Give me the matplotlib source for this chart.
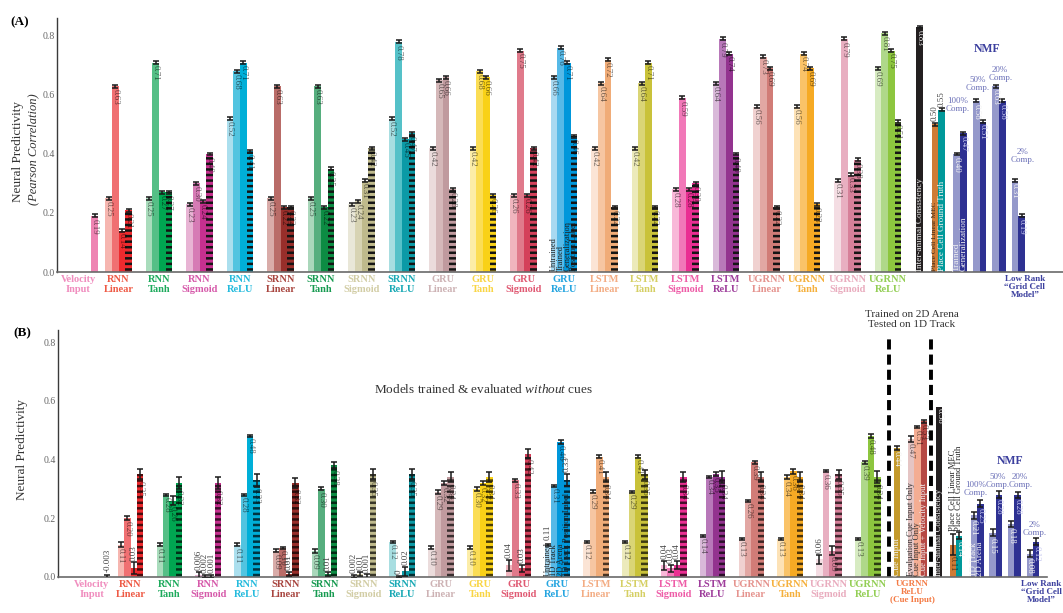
import numpy as np
import matplotlib.pyplot as plt

plt.rcParams['font.family'] = ['Liberation Serif', 'DejaVu Serif']
plt.rcParams['mathtext.fontset'] = 'custom'
plt.rcParams['mathtext.rm'] = 'Liberation Serif'
plt.rcParams['mathtext.it'] = 'Liberation Serif:italic'

# model families, four bars each
models = ['RNN\nLinear', 'RNN\nTanh', 'RNN\nSigmoid', 'RNN\nReLU',
          'SRNN\nLinear', 'SRNN\nTanh', 'SRNN\nSigmoid', 'SRNN\nReLU',
          'GRU\nLinear', 'GRU\nTanh', 'GRU\nSigmoid', 'GRU\nReLU',
          'LSTM\nLinear', 'LSTM\nTanh', 'LSTM\nSigmoid', 'LSTM\nReLU',
          'UGRNN\nLinear', 'UGRNN\nTanh', 'UGRNN\nSigmoid', 'UGRNN\nReLU']

# (A) untrained / trained / generalization / position label
a_velocity = 0.19
a_untrained = [0.25, 0.25, 0.23, 0.52, 0.25, 0.25, 0.23, 0.52, 0.42, 0.42,
               0.26, 0.66, 0.42, 0.42, 0.28, 0.64, 0.56, 0.56, 0.31, 0.69]
a_trained = [0.63, 0.71, 0.30, 0.68, 0.63, 0.63, 0.24, 0.78, 0.65, 0.68,
             0.75, 0.76, 0.64, 0.64, 0.59, 0.79, 0.73, 0.74, 0.79, 0.81]
a_general = [0.14, 0.27, 0.24, 0.71, 0.22, 0.22, 0.31, 0.45, 0.66, 0.66,
             0.26, 0.71, 0.72, 0.71, 0.28, 0.74, 0.69, 0.69, 0.33, 0.75]
a_position = [0.21, 0.27, 0.40, 0.41, 0.22, 0.35, 0.42, 0.47, 0.28, 0.26,
              0.42, 0.46, 0.22, 0.22, 0.30, 0.40, 0.22, 0.23, 0.38, 0.51]
a_err = 0.005
a_interanimal = 0.83
a_place = [0.50, 0.55]          # linear MEC, ground truth
nmf_comp = ['100%', '50%', '20%', '2%']
a_nmf_trained = [0.40, 0.58, 0.63, 0.31]
a_nmf_general = [0.47, 0.51, 0.58, 0.19]

# (B) untrained / 1D track / 2D arena / position label, no cues
b_velocity = -0.003
b_untrained = [0.11, 0.11, 0.006, 0.11, 0.09, 0.09, 0.002, 0.12, 0.10, 0.10,
               0.04, 0.11, 0.12, 0.12, 0.04, 0.14, 0.13, 0.13, 0.06, 0.13]
b_track = [0.20, 0.28, 0.002, 0.28, 0.10, 0.30, 0.01, 0.0, 0.29, 0.30,
           0.33, 0.31, 0.29, 0.29, 0.03, 0.34, 0.26, 0.34, 0.36, 0.39]
b_arena = [0.03, 0.26, 0.001, 0.48, 0.01, 0.01, 0.001, 0.02, 0.32, 0.32,
           0.03, 0.46, 0.41, 0.41, 0.04, 0.35, 0.39, 0.36, 0.09, 0.48]
b_position = [0.35, 0.32, 0.32, 0.33, 0.32, 0.38, 0.35, 0.35, 0.34, 0.34,
              0.42, 0.33, 0.34, 0.35, 0.34, 0.34, 0.34, 0.34, 0.35, 0.34]
b_err = [[0.008, 0.006, 0.020, 0.018], [0.006, 0.004, 0.015, 0.020],
         [0.012, 0.006, 0.006, 0.020], [0.006, 0.004, 0.004, 0.022],
         [0.006, 0.003, 0.008, 0.016], [0.007, 0.005, 0.006, 0.010],
         [0.006, 0.008, 0.008, 0.018], [0.004, 0.003, 0.015, 0.018],
         [0.004, 0.006, 0.008, 0.018], [0.004, 0.006, 0.008, 0.018],
         [0.018, 0.005, 0.012, 0.015], [0.004, 0.004, 0.006, 0.020],
         [0.004, 0.005, 0.005, 0.018], [0.004, 0.004, 0.005, 0.016],
         [0.016, 0.012, 0.014, 0.018], [0.004, 0.004, 0.006, 0.020],
         [0.004, 0.003, 0.006, 0.018], [0.004, 0.008, 0.008, 0.018],
         [0.016, 0.004, 0.016, 0.016], [0.004, 0.004, 0.006, 0.020]]
b_velocity_err = 0.01
b_cue = 0.44
b_cue_variants = [0.47, 0.51, 0.53]
b_cue_err = [0.006, 0.01, 0.004, 0.004]
b_interanimal = 0.58
b_place = [0.11, 0.14]
b_place_err = [0.035, 0.012]
b_nmf_track = [0.21, 0.15, 0.18, 0.08]
b_nmf_arena = [0.25, 0.28, 0.28, 0.12]
b_nmf_err = [0.012, 0.012, 0.010, 0.012]

light = ['#F6B6B0', '#A9DCBC', '#E8B4D4', '#ABDFEE', '#D9ACA9', '#AAD7BB', '#E9E7D8',
         '#A8DEE1', '#EBDCDC', '#FCEDA8', '#F0B5BE', '#A8D9F1', '#FBE4D5', '#ECEABB',
         '#F8B8D8', '#D9B9D9', '#F0D1D0', '#FDE2B6', '#F4DDE3', '#D7EBC2']
mid = ['#F07072', '#55BF86', '#D67BB5', '#52C4E0', '#B96C68', '#56AE7E', '#D7D3B3',
       '#55C1C8', '#D5B8B9', '#FBDD55', '#E07A8B', '#56B9E7', '#F6C6A2', '#DAD576',
       '#F178B8', '#B878B9', '#E2A7A3', '#FAC368', '#E8AFC1', '#AFD88A']
dark = ['#EE2A2E', '#00A651', '#C6308F', '#00AFD8', '#982E2A', '#0C8C43', '#BFBA8C',
        '#0B9AA6', '#C09A9E', '#F9D117', '#D4405A', '#0097DB', '#F0AC78', '#C9C23A',
        '#EA2E92', '#93338F', '#D17C77', '#F6AA24', '#D68099', '#8DC63F']
name_colors = ['#EE5A45', '#1DAA5C', '#D65AAA', '#25BBDD', '#A8453F', '#169A50',
               '#D2CDA5', '#19A9B5', '#CDB2B4', '#F9D544', '#E05A73', '#25A5E0',
               '#F3AC83', '#D5CF63', '#EE5CA7', '#9E3D9B', '#E5938E', '#F5B03C',
               '#E9ACBE', '#93CE55']
vel_color = '#EE84B2'
nmf_light, nmf_dark = '#9599CB', '#2E3192'
nmf_text, nmf_name = '#6B70B8', '#3B3F9E'

W = 0.165
offs = (np.arange(4) - 1.5) * W
gx = np.arange(1, len(models) + 1)
gru_relu = models.index('GRU\nReLU')
dim = (0, 0, 0, 0.55)
white = '#F2F2F2'


def fmt(v):
    if v == 0:
        return '0'
    if abs(v) < 0.01:
        return f'{v:.3f}'
    return f'{v:.2f}'


def bar(ax, x, v, color, err, lab_col=dim, above=False, hatch=None, hcol='k',
        lab_floor=0.0):
    kw = dict(width=W, color=color, linewidth=0, zorder=2)
    if hatch:
        kw.update(hatch=hatch, edgecolor=hcol)
    ax.bar(x, v, **kw)
    if err:
        ax.errorbar(x, v, yerr=err, fmt='none', ecolor='#1a1a1a', elinewidth=1.1,
                    capsize=2.2, capthick=1.1, zorder=3)
    if above:
        ax.text(x, max(max(v, 0) + err + 0.006, lab_floor), fmt(v), rotation=90,
                ha='center', va='bottom', fontsize=6.5, color='#444', zorder=4)
    else:
        ax.text(x, v - err - 0.004, fmt(v), rotation=270, ha='center', va='top',
                fontsize=6.5, color=lab_col, zorder=4)


def bar_name(ax, x, text, color, y0=0.004, size=6.3):
    ax.text(x, y0, text, rotation=90, ha='center', va='bottom', fontsize=size,
            color=color, zorder=4)


def style_axis(ax, xlim, top):
    ax.set_xlim(*xlim)
    ax.set_ylim(0, top)
    ax.spines['top'].set_visible(False)
    ax.spines['right'].set_visible(False)
    ax.spines['left'].set_color('#3a3a3a')
    ax.spines['bottom'].set_color('#6a6a6a')
    ax.spines['left'].set_linewidth(1.0)
    ax.spines['bottom'].set_linewidth(1.2)
    ticks = [0, 0.2, 0.4, 0.6, 0.8]
    ax.set_yticks(ticks)
    ax.set_yticklabels([f'{t:.1f}' for t in ticks])
    ax.set_xticks([])
    ax.tick_params(axis='y', length=0, pad=1.5, labelsize=7, labelcolor='#666')


def group_labels(ax, dy):
    tr = ax.get_xaxis_transform()
    ax.text(0, -dy, 'Velocity\nInput', transform=tr, ha='center', va='top',
            fontsize=7.5, fontweight='bold', color='#F08DBE', linespacing=1.1)
    for k, name, c in zip(gx, models, name_colors):
        ax.text(k, -dy, name, transform=tr, ha='center', va='top', fontsize=7.5,
                fontweight='bold', color=c, linespacing=1.1)


def nmf_labels(ax, spots, nmf_xy, lowrank_x, dy):
    for (x, y), c in zip(spots, nmf_comp):
        ax.text(x, y, c + '\nComp.', ha='center', va='center', fontsize=6.5,
                color=nmf_text, linespacing=1.0)
    ax.text(nmf_xy[0], nmf_xy[1], 'NMF', ha='center', va='center', fontsize=8.5,
            fontweight='bold', color=nmf_name)
    ax.text(lowrank_x, -dy, 'Low Rank\n\u201cGrid Cell\nModel\u201d',
            transform=ax.get_xaxis_transform(), ha='center', va='top',
            fontsize=6.5, fontweight='bold', color=nmf_name, linespacing=1.0)


fig = plt.figure(figsize=(10.63, 6.13), dpi=100)

# ---------------- panel A ----------------
plt.rcParams['hatch.linewidth'] = 1.8
axA = fig.add_axes([57 / 1063, 1 - 272 / 613, 1006 / 1063, 254 / 613])
style_axis(axA, (-0.52, 24.32), 0.861)

bar(axA, 0.41, a_velocity, vel_color, a_err)
for g in range(len(models)):
    vals = [a_untrained[g], a_trained[g], a_general[g], a_position[g]]
    shades = [light[g], mid[g], dark[g], dark[g]]
    for j in range(4):
        bar(axA, gx[g] + offs[j], vals[j], shades[j], a_err,
            hatch='---' if j == 3 else None, hcol='#141414')
for j, nm in enumerate(['Untrained', 'Trained', 'Generalization', 'Position Label']):
    bar_name(axA, gx[gru_relu] + offs[j], nm, '#222', size=6)

x_inter = 20.78
bar(axA, x_inter, a_interanimal, '#231F20', 0.004, lab_col=white)
bar_name(axA, x_inter, 'Inter-animal Consistency', white, size=6.6)

x_place = 21.24 + np.array([-0.5, 0.5]) * W
bar(axA, x_place[0], a_place[0], '#CF7B36', a_err, above=True)
bar(axA, x_place[1], a_place[1], '#00999A', a_err, above=True)
bar_name(axA, x_place[0], 'Place Cell Linear MEC', '#3a2a1a', size=5.3)
bar_name(axA, x_place[1], 'Place Cell Ground Truth', white, size=6.6)

x_nmf = 21.78 + 0.48 * np.arange(4)
for i in range(4):
    bar(axA, x_nmf[i] - W / 2, a_nmf_trained[i], nmf_light, a_err, lab_col=white)
    bar(axA, x_nmf[i] + W / 2, a_nmf_general[i], nmf_dark, a_err, lab_col='#C8CAF0')
bar_name(axA, x_nmf[0] - W / 2, 'Trained', white, size=6.6)
bar_name(axA, x_nmf[0] + W / 2, 'Generalization', white, size=6.6)

group_labels(axA, 0.012)
nmf_labels(axA, [(21.73, 0.567), (22.22, 0.637), (22.77, 0.67), (23.33, 0.392)],
           (22.44, 0.756), 23.38, 0.012)

# ---------------- panel B ----------------
axB = fig.add_axes([58 / 1063, 1 - 577 / 613, 989 / 1063, 247 / 613])
style_axis(axB, (-0.87, 24.62), 0.841)

bar(axB, 0.40, b_velocity, vel_color, b_velocity_err, above=True)
for g in range(len(models)):
    vals = [b_untrained[g], b_track[g], b_arena[g], b_position[g]]
    shades = [light[g], mid[g], dark[g], dark[g]]
    for j in range(4):
        # bars carrying a name at their foot get the value written above
        named = g == gru_relu and j in (0, 3)
        up = vals[j] < 0.085 or named
        bar(axB, gx[g] + offs[j], vals[j], shades[j], b_err[g][j], above=up,
            hatch='---' if j == 3 else None, hcol=(0, 0, 0, 0.7),
            lab_floor=0.125 if named and j == 0 else 0.0)
for j, nm in enumerate(['Untrained', '1D Track', '2D Arena', '1D Track Position Label']):
    bar_name(axB, gx[gru_relu] + offs[j], nm, '#222', size=6)

for xd in [20.55, 21.63]:
    axB.plot([xd, xd], [0, 0.824], color='k', lw=2.8, ls=(0, (2.6, 1.3)),
             solid_capstyle='butt', zorder=1, clip_on=False)
axB.text(21.14, 0.877, 'Trained on 2D Arena\nTested on 1D Track', ha='center',
         va='center', fontsize=8, color='#333', linespacing=1.15)
axB.text(10.09, 0.637, r'Models trained & evaluated $\mathit{without}$ cues',
         ha='center', va='center', fontsize=9.5, color='#333')

bar(axB, 20.75, b_cue, '#C49A2C', b_cue_err[0], lab_col=white)
bar_name(axB, 20.75, 'Cue Input', white, size=6.8)
x_var = 21.28 + np.array([-1, 0, 1]) * W
var_cols = ['#E5C5C4', '#F4AD93', '#B64944']
var_names = ['Evaluation Cue Input Only', 'Cue Input Only', 'Cue Input + Velocity Input']
var_txt = ['#333', '#333', white]
for i in range(3):
    bar(axB, x_var[i], b_cue_variants[i], var_cols[i], b_cue_err[i + 1])
    bar_name(axB, x_var[i], var_names[i], var_txt[i], size=6.2)
axB.text(21.15, -0.012, 'UGRNN\nReLU\n(Cue Input)', transform=axB.get_xaxis_transform(),
         ha='center', va='top', fontsize=6.5, fontweight='bold', color='#F47B45',
         linespacing=1.0)

bar(axB, 21.84, b_interanimal, '#231F20', 0, lab_col=white)
bar_name(axB, 21.84, 'Inter-animal Consistency', white, size=6.2)

x_place_b = 22.275 + np.array([-0.5, 0.5]) * W
bar(axB, x_place_b[0], b_place[0], '#CF7B36', b_place_err[0])
bar(axB, x_place_b[1], b_place[1], '#00999A', b_place_err[1], lab_col=white)
bar_name(axB, x_place_b[0], 'Place Cell Linear MEC', '#222', y0=0.155, size=6.2)
bar_name(axB, x_place_b[1], 'Place Cell Ground Truth', '#222', y0=0.155, size=6.2)

x_nmf_b = 22.82 + 0.48 * np.arange(4)
for i in range(4):
    bar(axB, x_nmf_b[i] - W / 2, b_nmf_track[i], nmf_light, b_nmf_err[i], lab_col=white)
    bar(axB, x_nmf_b[i] + W / 2, b_nmf_arena[i], nmf_dark, b_nmf_err[i], lab_col='#C8CAF0')
bar_name(axB, x_nmf_b[0] - W / 2, '1D Track', white, size=6.4)
bar_name(axB, x_nmf_b[0] + W / 2, '2D Arena', white, size=6.4)

group_labels(axB, 0.012)
nmf_labels(axB, [(22.79, 0.298), (23.36, 0.327), (23.93, 0.327), (24.31, 0.165)],
           (23.67, 0.395), 24.48, 0.012)

# panel letters and axis titles
fig.text(10 / 1063, 1 - 22 / 613, '(A)', fontsize=9.5, fontweight='bold', va='center')
fig.text(13 / 1063, 1 - 333 / 613, '(B)', fontsize=9.5, fontweight='bold', va='center')
fig.text(18 / 1063, 1 - 151 / 613, 'Neural Predictivity', rotation=90, ha='center',
         va='center', fontsize=9.5, color='#333')
fig.text(33 / 1063, 1 - 149 / 613, '(Pearson Correlation)', rotation=90, ha='center',
         va='center', fontsize=9, style='italic', color='#333')
fig.text(22 / 1063, 1 - 450 / 613, 'Neural Predictivity', rotation=90, ha='center',
         va='center', fontsize=9.5, color='#333')

fig.savefig('out.png', dpi=100)
